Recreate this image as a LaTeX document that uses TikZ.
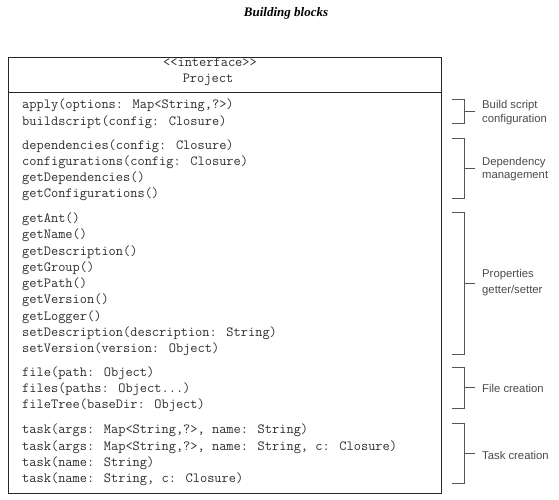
\documentclass[tikz,border=0pt]{standalone}
\usepackage{fontspec}
\setmainfont{Liberation Serif}
\newfontfamily\labelfont{Liberation Sans}
\definecolor{membercol}{HTML}{2E2E2E}
\definecolor{bracketcol}{HTML}{555555}
\definecolor{labelcol}{HTML}{4A4A4A}
\begin{document}
\begin{tikzpicture}[x=1pt,y=-1pt,
  member/.style={anchor=base west,inner sep=0pt,font=\ttfamily\fontsize{14}{16}\selectfont,text=membercol},
  header/.style={anchor=base,inner sep=0pt,font=\ttfamily\fontsize{14}{16}\selectfont,text=membercol},
  grouplabel/.style={anchor=base west,inner sep=0pt,font=\labelfont\fontsize{11.3}{13}\selectfont,text=labelcol},
  bracketline/.style={draw=bracketcol,line width=0.8pt},
  boxline/.style={draw=black!85,line width=0.9pt}]
\useasboundingbox (0,0) rectangle (559,500);
% title
\node[anchor=base,inner sep=0pt,font=\bfseries\itshape\fontsize{13}{15}\selectfont] (title) at (286,17) {Building blocks};
% class box
\coordinate (boxtl) at (8,57);
\coordinate (boxbr) at (441,493);
\draw[boxline] (boxtl) rectangle (boxbr);
\coordinate (divl) at (8,92);
\coordinate (divr) at (441,92);
\draw[boxline] (divl) -- (divr);
\node[header] (stereo) at (210,67) {<{}<interface>{}>};
\node[header] (cname) at (208,83) {Project};
% members
\node[member] (m1) at (22,109) {apply(options: Map<String,?>)};
\node[member] (m2) at (22,125) {buildscript(config: Closure)};
\node[member] (m3) at (22,149) {dependencies(config: Closure)};
\node[member] (m4) at (22,165) {configurations(config: Closure)};
\node[member] (m5) at (22,181) {getDependencies()};
\node[member] (m6) at (22,197) {getConfigurations()};
\node[member] (m7) at (22,222) {getAnt()};
\node[member] (m8) at (22,238) {getName()};
\node[member] (m9) at (22,255) {getDescription()};
\node[member] (m10) at (22,271) {getGroup()};
\node[member] (m11) at (22,287) {getPath()};
\node[member] (m12) at (22,303) {getVersion()};
\node[member] (m13) at (22,320) {getLogger()};
\node[member] (m14) at (22,336) {setDescription(description: String)};
\node[member] (m15) at (22,352) {setVersion(version: Object)};
\node[member] (m16) at (22,376) {file(path: Object)};
\node[member] (m17) at (22,392) {files(paths: Object...)};
\node[member] (m18) at (22,408) {fileTree(baseDir: Object)};
\node[member] (m19) at (22,433) {task(args: Map<String,?>, name: String)};
\node[member] (m20) at (22,450) {task(args: Map<String,?>, name: String, c: Closure)};
\node[member] (m21) at (22,466) {task(name: String)};
\node[member] (m22) at (22,482) {task(name: String, c: Closure)};
% brackets
\foreach \i/\top/\bot in {1/99/123,2/138/198,3/212/354,4/367/408,5/423/483}{
  \coordinate (bt\i) at (452,\top);
  \coordinate (bb\i) at (452,\bot);
  \coordinate (bm\i) at (464,{(\top+\bot)/2});
  \draw[bracketline] (bt\i) -- ++(12,0) |- (bb\i);
  \draw[bracketline] (bm\i) -- ++(11,0);
}
% labels
\node[grouplabel] (l1a) at (482,109) {Build script};
\node[grouplabel] (l1b) at (482,122) {configuration};
\node[grouplabel] (l2a) at (482,165) {Dependency};
\node[grouplabel] (l2b) at (482,178) {management};
\node[grouplabel] (l3a) at (482,277) {Properties};
\node[grouplabel] (l3b) at (482,293) {getter/setter};
\node[grouplabel] (l4) at (482,392) {File creation};
\node[grouplabel] (l5) at (482,459) {Task creation};
\end{tikzpicture}
\end{document}
